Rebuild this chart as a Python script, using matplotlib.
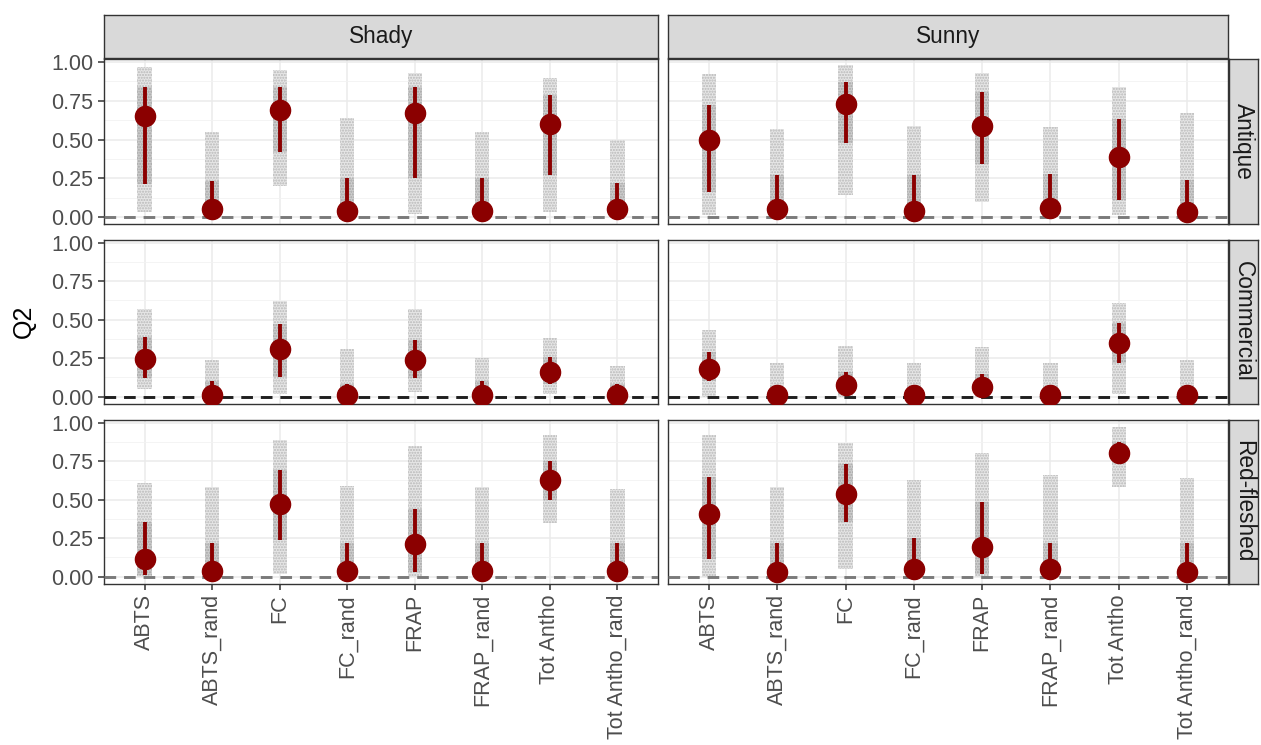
import matplotlib
matplotlib.use("Agg")
import matplotlib.pyplot as plt
import numpy as np

plt.rcParams['font.family'] = ['Liberation Sans', 'DejaVu Sans']
plt.rcParams['hatch.linewidth'] = 1.0

categories = ["ABTS", "ABTS_rand", "FC", "FC_rand", "FRAP", "FRAP_rand", "Tot Antho", "Tot Antho_rand"]
exposures = ["Shady", "Sunny"]
varieties = ["Antique", "Commercial", "Red-fleshed"]

# medians
med = {
    ("Antique", "Shady"):     [0.65, 0.05, 0.69, 0.04, 0.67, 0.04, 0.60, 0.05],
    ("Antique", "Sunny"):     [0.50, 0.05, 0.73, 0.04, 0.59, 0.06, 0.39, 0.03],
    ("Commercial", "Shady"):  [0.245, 0.01, 0.31, 0.01, 0.24, 0.01, 0.16, 0.01],
    ("Commercial", "Sunny"):  [0.18, 0.01, 0.075, 0.01, 0.065, 0.01, 0.35, 0.01],
    ("Red-fleshed", "Shady"): [0.115, 0.04, 0.47, 0.04, 0.21, 0.04, 0.63, 0.04],
    ("Red-fleshed", "Sunny"): [0.41, 0.03, 0.54, 0.05, 0.19, 0.05, 0.80, 0.03],
}
# interval lower bounds
lo = {
    ("Antique", "Shady"):     [0.21, 0.00, 0.42, 0.00, 0.25, 0.00, 0.27, 0.00],
    ("Antique", "Sunny"):     [0.16, 0.00, 0.48, 0.00, 0.34, 0.00, 0.11, 0.00],
    ("Commercial", "Shady"):  [0.12, 0.00, 0.13, 0.00, 0.12, 0.00, 0.08, 0.00],
    ("Commercial", "Sunny"):  [0.10, 0.00, 0.02, 0.00, 0.02, 0.00, 0.22, 0.00],
    ("Red-fleshed", "Shady"): [0.01, 0.00, 0.24, 0.00, 0.03, 0.00, 0.50, 0.00],
    ("Red-fleshed", "Sunny"): [0.115, 0.00, 0.355, 0.00, 0.02, 0.00, 0.74, 0.00],
}
# interval upper bounds
hi = {
    ("Antique", "Shady"):     [0.84, 0.23, 0.84, 0.25, 0.84, 0.25, 0.79, 0.22],
    ("Antique", "Sunny"):     [0.72, 0.27, 0.87, 0.27, 0.81, 0.28, 0.63, 0.24],
    ("Commercial", "Shady"):  [0.39, 0.10, 0.47, 0.08, 0.37, 0.10, 0.26, 0.08],
    ("Commercial", "Sunny"):  [0.29, 0.05, 0.16, 0.05, 0.15, 0.05, 0.48, 0.05],
    ("Red-fleshed", "Shady"): [0.355, 0.22, 0.69, 0.22, 0.44, 0.22, 0.75, 0.22],
    ("Red-fleshed", "Sunny"): [0.65, 0.22, 0.73, 0.25, 0.485, 0.22, 0.875, 0.22],
}
# extent of the replicate point clouds
cloud_lo = {
    ("Antique", "Shady"):     [0.03, 0.00, 0.20, 0.00, 0.02, 0.00, 0.03, 0.00],
    ("Antique", "Sunny"):     [0.01, 0.00, 0.14, 0.00, 0.10, 0.00, 0.01, 0.00],
    ("Commercial", "Shady"):  [0.05, 0.00, 0.02, 0.00, 0.03, 0.00, 0.02, 0.00],
    ("Commercial", "Sunny"):  [0.00, 0.00, 0.00, 0.00, 0.00, 0.00, 0.02, 0.00],
    ("Red-fleshed", "Shady"): [0.00, 0.00, 0.02, 0.00, 0.00, 0.00, 0.35, 0.00],
    ("Red-fleshed", "Sunny"): [0.00, 0.00, 0.05, 0.00, 0.00, 0.00, 0.58, 0.00],
}
cloud_hi = {
    ("Antique", "Shady"):     [0.97, 0.55, 0.95, 0.64, 0.93, 0.55, 0.90, 0.50],
    ("Antique", "Sunny"):     [0.92, 0.57, 0.98, 0.59, 0.93, 0.58, 0.84, 0.67],
    ("Commercial", "Shady"):  [0.57, 0.24, 0.62, 0.31, 0.57, 0.25, 0.38, 0.20],
    ("Commercial", "Sunny"):  [0.43, 0.22, 0.33, 0.22, 0.32, 0.22, 0.61, 0.24],
    ("Red-fleshed", "Shady"): [0.61, 0.58, 0.89, 0.59, 0.85, 0.58, 0.92, 0.57],
    ("Red-fleshed", "Sunny"): [0.92, 0.58, 0.87, 0.63, 0.80, 0.66, 0.97, 0.64],
}
yticks = [0.00, 0.25, 0.50, 0.75, 1.00]
ytick_labels = ["0.00", "0.25", "0.50", "0.75", "1.00"]

W, H = 1261, 745
fig = plt.figure(figsize=(W / 100, H / 100), dpi=100)

col_x = [(104, 658), (668, 1228)]
row_y = [(59, 224), (239.6, 403.6), (419.6, 583.6)]
strip_top = (15, 58)
strip_right = (1229, 1258)

def fr(x0, y0, x1, y1):
    return [x0 / W, 1 - y1 / H, (x1 - x0) / W, (y1 - y0) / H]

TXT = '#4d4d4d'
RED = '#8b0000'
x = np.arange(1, len(categories) + 1)

for r, var in enumerate(varieties):
    for c, exp in enumerate(exposures):
        x0, x1 = col_x[c]
        y0, y1 = row_y[r]
        ax = fig.add_axes(fr(x0, y0, x1, y1))
        ax.set_xlim(0.4, 8.6)
        ax.set_ylim(-0.045, 1.02)
        ax.set_yticks(yticks)
        ax.set_yticks([0.125, 0.375, 0.625, 0.875], minor=True)
        ax.set_xticks(x)
        ax.grid(True, which='major', color='#ebebeb', lw=1.1, zorder=0)
        ax.grid(True, which='minor', axis='y', color='#f2f2f2', lw=0.6, zorder=0)
        ax.set_axisbelow(True)
        ax.tick_params(which='minor', length=0)
        key = (var, exp)
        clo = np.array(cloud_lo[key]); chi = np.array(cloud_hi[key])
        ilo = np.array(lo[key]); ihi = np.array(hi[key])
        ax.bar(x, chi - clo, bottom=clo, width=0.21, color='#e6e6e6',
               edgecolor='#b8b8b8', hatch='......', lw=0, zorder=2)
        ax.bar(x, ihi - ilo, bottom=ilo, width=0.21, color='#cdcdcd',
               edgecolor='#a6a6a6', hatch='......', lw=0, zorder=2)
        dcol = '#1f1f1f' if var == "Commercial" else '#7a7a7a'
        ax.axhline(0, color=dcol, lw=2.1, ls=(0, (4.0, 2.7)), zorder=3)
        ax.vlines(x, ilo, ihi, color=RED, lw=2.8, zorder=4)
        ax.plot(x, med[key], 'o', color=RED, ms=14.5, mec=RED, zorder=5)
        for s in ax.spines.values():
            s.set_color('#333333'); s.set_linewidth(1.0)
        ax.tick_params(which='major', colors='#333333', labelcolor=TXT, labelsize=15.5,
                       length=4.5, width=1.1, pad=3)
        if c == 0:
            ax.set_yticklabels(ytick_labels)
        else:
            ax.tick_params(axis='y', left=False, labelleft=False)
        if r == 2:
            ax.set_xticklabels(categories, rotation=90)
        else:
            ax.tick_params(axis='x', bottom=False, labelbottom=False)

# top strips
for c, exp in enumerate(exposures):
    x0, x1 = col_x[c]
    sax = fig.add_axes(fr(x0, strip_top[0], x1, strip_top[1]))
    sax.set_facecolor('#d9d9d9')
    sax.set_xticks([]); sax.set_yticks([])
    for s in sax.spines.values():
        s.set_color('#333333'); s.set_linewidth(1.0)
    sax.text(0.5, 0.5, exp, ha='center', va='center', color='#1a1a1a', fontsize=16.3,
             transform=sax.transAxes)

# right strips
for r, var in enumerate(varieties):
    y0, y1 = row_y[r]
    sax = fig.add_axes(fr(strip_right[0], y0, strip_right[1], y1))
    sax.set_facecolor('#d9d9d9')
    sax.set_xticks([]); sax.set_yticks([])
    for s in sax.spines.values():
        s.set_color('#333333'); s.set_linewidth(1.0)
    sax.text(0.5, 0.5, var, ha='center', va='center', color='#1a1a1a', fontsize=16.3,
             rotation=-90, transform=sax.transAxes)

fig.text(24 / W, 1 - 321 / H, "Q2", rotation=90, ha='center', va='center',
         fontsize=18, color='black')

fig.savefig("out.png", dpi=100)
